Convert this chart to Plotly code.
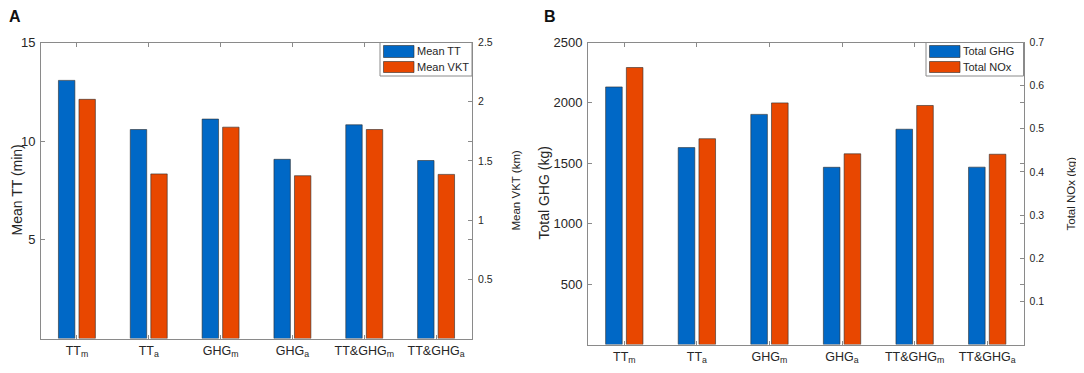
import plotly.graph_objects as go

# ---- data ----
categories = ["TT<sub>m</sub>", "TT<sub>a</sub>", "GHG<sub>m</sub>", "GHG<sub>a</sub>",
              "TT&GHG<sub>m</sub>", "TT&GHG<sub>a</sub>"]
mean_tt = [13.08, 10.59, 11.12, 9.08, 10.83, 9.02]          # min
mean_vkt = [2.02, 1.39, 1.785, 1.375, 1.765, 1.386]         # km
total_ghg = [2132, 1630, 1905, 1467, 1782, 1468]            # kg
total_nox = [0.642, 0.477, 0.560, 0.442, 0.554, 0.441]      # kg

yA_left_ticks = [5, 10, 15]
yA_right_ticks = [0.5, 1, 1.5, 2, 2.5]
yB_left_ticks = [500, 1000, 1500, 2000, 2500]
yB_right_ticks = [0.1, 0.2, 0.3, 0.4, 0.5, 0.6, 0.7]

W, H = 1084, 373
BLUE = "#0068c6"
ORANGE = "#e84700"
AXC = "#8a8a8a"
TXT = "#262626"
FONT = "Liberation Sans, Arial, sans-serif"

xs = list(range(len(categories)))
bw = 0.2286

def px(x):
    return x / W

def py(y):
    return 1 - y / H

fig = go.Figure()
bar_line = dict(color="#2b2b2b", width=0.6)
fig.add_trace(go.Bar(x=xs, y=mean_tt, width=bw, offset=-0.2571, marker=dict(color=BLUE, line=bar_line),
                     xaxis="x", yaxis="y", name="Mean TT", showlegend=False))
fig.add_trace(go.Bar(x=xs, y=mean_vkt, width=bw, offset=0.0286, marker=dict(color=ORANGE, line=bar_line),
                     xaxis="x", yaxis="y2", name="Mean VKT", showlegend=False))
fig.add_trace(go.Bar(x=xs, y=total_ghg, width=bw, offset=-0.2571, marker=dict(color=BLUE, line=bar_line),
                     xaxis="x2", yaxis="y3", name="Total GHG", showlegend=False))
fig.add_trace(go.Bar(x=xs, y=total_nox, width=bw, offset=0.0286, marker=dict(color=ORANGE, line=bar_line),
                     xaxis="x2", yaxis="y4", name="Total NOx", showlegend=False))

xA = [33.0, 464.0]
xB = [580.0, 1015.5]
yA = [34.5, 330.5]
yB = [34.5, 336.5]

def xaxis_cfg(dom, anchor):
    return dict(domain=[px(dom[0]), px(dom[1])], anchor=anchor, range=[-0.5, 5.5],
                tickvals=xs, ticktext=categories, ticks="inside", ticklen=4, tickcolor=AXC,
                showline=True, linecolor=AXC, linewidth=1, mirror="ticks", showgrid=False,
                zeroline=False, tickfont=dict(size=12.5, color=TXT, family=FONT),
                automargin=False, fixedrange=True)

def yleft_cfg(dom, anchor, rng, tv):
    return dict(domain=[py(dom[1]), py(dom[0])], anchor=anchor, range=rng, tickvals=tv,
                ticks="inside", ticklen=4, tickcolor=AXC, showline=True, linecolor=AXC,
                linewidth=1, mirror="ticks", showgrid=False, zeroline=False,
                tickfont=dict(size=13, color=TXT, family=FONT), automargin=False,
                ticklabelstandoff=2)

def yright_cfg(over, anchor, rng, tv):
    return dict(overlaying=over, side="right", anchor=anchor, range=rng, tickvals=tv,
                ticks="inside", ticklen=4, tickcolor=AXC, showline=True, linecolor=AXC,
                linewidth=1, showgrid=False, zeroline=False,
                tickfont=dict(size=10.5, color=TXT, family=FONT), automargin=False,
                ticklabelstandoff=3)

annotations = []
shapes = []

def vtitle(x, y, text, size):
    annotations.append(dict(x=px(x), y=py(y), xref="paper", yref="paper", text=text,
                            textangle=-90, showarrow=False, xanchor="center", yanchor="middle",
                            font=dict(size=size, color=TXT, family=FONT)))

vtitle(8, (yA[0] + yA[1]) / 2, "Mean TT (min)", 14)
vtitle(507, (yA[0] + yA[1]) / 2, "Mean VKT (km)", 11.5)
vtitle(535, (yB[0] + yB[1]) / 2, "Total GHG (kg)", 14)
vtitle(1062, (yB[0] + yB[1]) / 2, "Total NOx (kg)", 11.5)

for lx, lab in [(7, "A"), (542, "B")]:
    annotations.append(dict(x=px(lx), y=py(8), xref="paper", yref="paper", text="<b>%s</b>" % lab,
                            showarrow=False, xanchor="center", yanchor="middle",
                            font=dict(size=16, color="#111111", family=FONT)))

def legend(x0, x1, y0, y1, labels):
    shapes.append(dict(type="rect", xref="paper", yref="paper", x0=px(x0), x1=px(x1), y0=py(y1), y1=py(y0),
                       line=dict(color=AXC, width=1), fillcolor="white", layer="above"))
    rows = [(y0 + 3, y0 + 15, BLUE), (y0 + 19, y0 + 30, ORANGE)]
    for (ry0, ry1, col), lab in zip(rows, labels):
        shapes.append(dict(type="rect", xref="paper", yref="paper", x0=px(x0 + 3.5), x1=px(x0 + 34),
                           y0=py(ry1), y1=py(ry0), line=dict(color="#2b2b2b", width=0.6),
                           fillcolor=col, layer="above"))
        annotations.append(dict(x=px(x0 + 34.5), y=py((ry0 + ry1) / 2), xref="paper", yref="paper",
                                text=lab, showarrow=False, xanchor="left", yanchor="middle",
                                font=dict(size=11, color=TXT, family=FONT)))

legend(372, xA[1], yA[0], yA[0] + 33.5, ["Mean TT", "Mean VKT"])
legend(918, xB[1], yB[0], yB[0] + 33.5, ["Total GHG", "Total NOx"])

fig.update_layout(
    width=W, height=H, margin=dict(l=0, r=0, t=0, b=0),
    paper_bgcolor="white", plot_bgcolor="white", barmode="overlay",
    font=dict(family=FONT, color=TXT),
    xaxis=xaxis_cfg(xA, "y"),
    xaxis2=xaxis_cfg(xB, "y3"),
    yaxis=yleft_cfg(yA, "x", [0, 15], yA_left_ticks),
    yaxis2=yright_cfg("y", "x", [0, 2.5], yA_right_ticks),
    yaxis3=yleft_cfg(yB, "x2", [0, 2500], yB_left_ticks),
    yaxis4=yright_cfg("y3", "x2", [0, 0.7], yB_right_ticks),
    annotations=annotations, shapes=shapes, showlegend=False,
)

fig.write_html("out.html")
